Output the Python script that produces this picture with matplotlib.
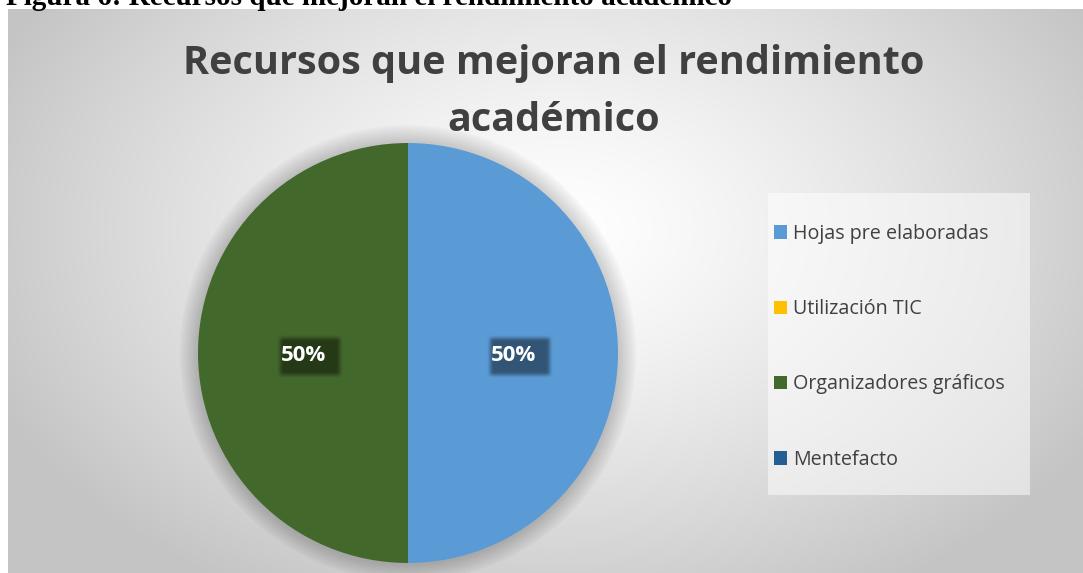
import numpy as np
import matplotlib
matplotlib.use("Agg")
import matplotlib.pyplot as plt
from matplotlib.patches import Rectangle, Patch

categories = ["Hojas pre elaboradas", "Utilización TIC", "Organizadores gráficos", "Mentefacto"]
values = [50, 0, 50, 0]
colors = ["#5B9BD5", "#FFC000", "#43682B", "#255E91"]
title = "Recursos que mejoran el rendimiento\nacadémico"
caption = "Figura 6: Recursos que mejoran el rendimiento académico"

W, H = 1083, 573
fig = plt.figure(figsize=(W / 100, H / 100), dpi=100)
fig.patch.set_facecolor("white")

def fx(px):
    return px / W

def fy(py):
    return 1 - py / H

# chart area with radial gradient
x0, y0, x1, y1 = 8, 9, 1083, 573
bg = fig.add_axes([fx(x0), fy(y1), fx(x1 - x0), (y1 - y0) / H])
bg.set_axis_off()
gx = np.linspace(x0, x1, 400)
gy = np.linspace(y0, y1, 220)
XX, YY = np.meshgrid(gx, gy)
cx, cy = 560, 230
d = np.sqrt(((XX - cx) / 620) ** 2 + ((YY - cy) / 420) ** 2)
d = np.clip(d, 0, 1)
val = 1.0 - (1.0 - 0.77) * d ** 1.3
img = np.dstack([val, val, val])
bg.imshow(img, extent=[0, 1, 0, 1], aspect="auto", interpolation="bilinear")
bg.set_xlim(0, 1)
bg.set_ylim(0, 1)

# caption (clipped at top, as in the reference)
fig.text(fx(6), fy(5), caption, fontsize=21, fontweight="bold",
         family="Liberation Serif", color="black", va="baseline", ha="left")

# title
fig.text(fx(554), fy(92), title, fontsize=28.5, fontweight="bold",
         family="Open Sans", color="#404040", ha="center", va="center",
         linespacing=1.6)

# pie
pcx, pcy, r = 408, 353, 210
ax = fig.add_axes([fx(pcx - r), fy(pcy + r), 2 * r / W, 2 * r / H])
ax.set_facecolor("none")

# soft shadow around pie
for i in range(14):
    sh = plt.Circle((0, 0), 1.0 + 0.006 * (i + 1), color="black",
                    alpha=0.010, zorder=0, clip_on=False)
    ax.add_patch(sh)

def fmt(p):
    return "%1.0f%%" % p if p > 0 else ""

wedges, texts, autotexts = ax.pie(values, colors=colors, startangle=90,
                                  counterclock=False, autopct=fmt,
                                  pctdistance=0.5, radius=1.0,
                                  wedgeprops=dict(linewidth=0))

# blurred shadow image for labels
sw, shh = 0.32, 0.21
nx, ny = 64, 42
ux = np.linspace(-1, 1, nx)
uy = np.linspace(-1, 1, ny)
UX, UY = np.meshgrid(ux, uy)
def soft(u, edge):
    a = (1 - np.abs(u)) / edge
    a = np.clip(a, 0, 1)
    return a * a * (3 - 2 * a)
alpha = soft(UX, 0.22) * soft(UY, 0.32) * 0.45
shadow_rgba = np.zeros((ny, nx, 4))
shadow_rgba[..., 3] = alpha

for t in autotexts:
    t.set_color("white")
    t.set_fontsize(16)
    t.set_fontweight("bold")
    t.set_family("Open Sans")
    t.set_zorder(5)
    if t.get_text():
        x, y = t.get_position()
        y = y - 0.01
        t.set_position((x, y))
        scx, scy = x + 0.03, y - 0.01
        ax.imshow(shadow_rgba, extent=[scx - sw / 2, scx + sw / 2, scy - shh / 2, scy + shh / 2],
                  zorder=4, interpolation="bilinear", aspect="auto")
ax.set_xlim(-1, 1)
ax.set_ylim(-1, 1)
ax.set_aspect("auto")
ax.set_axis_off()

# legend box
lx0, ly0, lx1, ly1 = 768, 193, 1030, 495
fig.patches.append(Rectangle((fx(lx0), fy(ly1)), fx(lx1 - lx0), (ly1 - ly0) / H,
                             transform=fig.transFigure, facecolor="white",
                             alpha=0.5, edgecolor="none", zorder=2))
handles = [Patch(facecolor=c, edgecolor="none") for c in colors]
leg = fig.legend(handles, categories, loc="upper left",
                 bbox_to_anchor=(fx(774), fy(224)),
                 frameon=False, prop={"family": "Open Sans", "size": 14.2},
                 handlelength=0.68, handleheight=0.68, handletextpad=0.3,
                 labelspacing=2.8, borderpad=0, borderaxespad=0)
for t in leg.get_texts():
    t.set_color("#404040")

fig.savefig("out.png", dpi=100)
